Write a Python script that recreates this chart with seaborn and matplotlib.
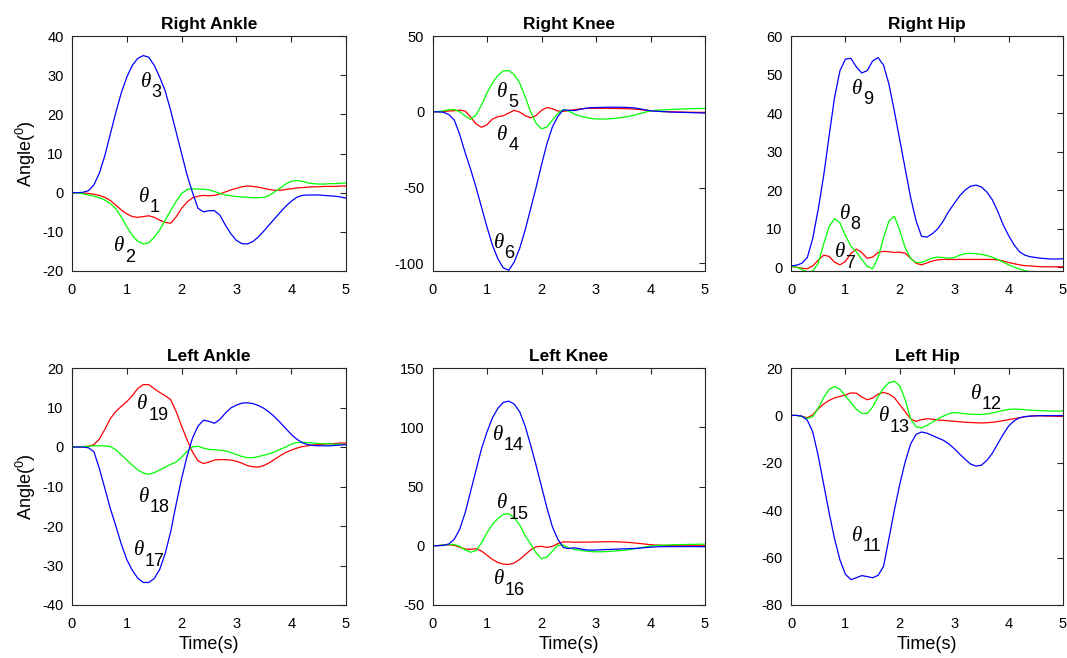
import numpy as np
import pandas as pd
import matplotlib
matplotlib.use("Agg")
import matplotlib.pyplot as plt
import seaborn as sns

time_s = [round(0.1 * i, 1) for i in range(51)]

# Right Ankle
theta1 = [0, 0, -0.1, -0.2, -0.4, -0.7, -1.2, -2.0, -3.2, -4.4, -5.4, -6.1, -6.3, -6.1, -5.9, -6.3, -7.0, -7.6, -7.8, -6.2,
          -4.0, -2.4, -1.3, -0.9, -0.7, -0.8, -0.7, -0.3, 0.2, 0.7, 1.1, 1.5, 1.7, 1.6, 1.4, 1.1, 0.8, 0.6, 0.6, 0.8,
          1.0, 1.2, 1.3, 1.4, 1.5, 1.5, 1.6, 1.6, 1.6, 1.7, 1.7]
theta2 = [0, -0.1, -0.3, -0.6, -0.9, -1.3, -1.9, -2.8, -4.1, -6.2, -8.7, -10.9, -12.4, -13.1, -12.8, -11.4, -9.5, -7.0, -4.6, -2.2,
          -0.2, 0.8, 1.0, 0.9, 0.9, 0.7, 0.3, -0.2, -0.6, -0.8, -1.0, -1.1, -1.2, -1.3, -1.3, -1.2, -0.7, 0.2, 1.2, 2.2,
          2.9, 3.1, 2.9, 2.5, 2.3, 2.2, 2.2, 2.3, 2.3, 2.4, 2.5]
theta3 = [0, 0, 0.1, 0.5, 2.0, 5.0, 9.5, 15.0, 20.5, 25.5, 29.5, 32.5, 34.3, 35.0, 34.6, 32.5, 29.5, 26.0, 21.0, 15.5,
          10.0, 4.5, 0.0, -4.0, -4.9, -4.6, -4.6, -5.8, -8.3, -10.5, -12.2, -13.0, -13.1, -12.5, -11.3, -9.8, -8.2, -6.6, -5.0, -3.5,
          -2.2, -1.2, -0.7, -0.6, -0.6, -0.6, -0.7, -0.8, -0.9, -1.1, -1.4]

# Right Knee
theta4 = [0, 0, 0.2, 0.5, 0.7, 1.1, 0.5, -3.5, -8.0, -10.2, -8.5, -4.8, -3.2, -2.6, -0.8, 1.0, -0.2, -2.5, -4.0, -2.5,
          1.0, 2.8, 2.0, 0.5, 0.3, 0.8, 1.4, 1.9, 2.2, 2.3, 2.3, 2.3, 2.3, 2.2, 2.2, 2.1, 2.0, 1.8, 1.5, 1.1,
          0.7, 0.4, 0.2, 0.1, 0, -0.1, -0.2, -0.3, -0.3, -0.4, -0.4]
theta5 = [0, 0.2, 0.6, 1.4, 1.5, 0, -2.8, -5.0, -2.0, 4.5, 12.5, 19.0, 24.0, 27.0, 27.2, 24.5, 19.0, 10.0, 0, -7.5,
          -11.2, -10.0, -5.5, -1.0, 1.5, 0.5, -1.5, -2.6, -3.6, -4.3, -4.7, -4.8, -4.7, -4.5, -4.1, -3.6, -3.0, -2.2, -1.3, -0.3,
          0.6, 1.0, 1.2, 1.4, 1.6, 1.8, 1.9, 2.0, 2.1, 2.2, 2.2]
theta6 = [0, 0, -0.3, -1.8, -5.5, -15.0, -27.0, -38.0, -50.0, -63.0, -76.0, -88.0, -97.0, -103.0, -104.5, -99.0, -90.0, -78.0, -64.0, -50.0,
          -35.0, -21.0, -10.0, -3.0, 1.2, 1.0, 0.8, 1.5, 2.3, 2.7, 2.8, 2.9, 3.0, 3.0, 3.0, 3.0, 2.8, 2.6, 2.0, 1.3,
          0.7, 0.4, 0.2, 0, -0.2, -0.3, -0.4, -0.5, -0.6, -0.7, -0.8]

# Right Hip
theta7 = [0.2, 0, -0.3, -0.4, 0.3, 1.8, 3.1, 2.8, 1.3, 0.6, 1.5, 3.5, 4.7, 3.8, 2.3, 2.6, 3.8, 4.1, 4.0, 3.8,
          3.9, 3.6, 2.3, 1.0, 0.6, 1.1, 1.6, 1.9, 2.0, 2.0, 2.0, 2.0, 2.0, 2.0, 2.0, 2.0, 2.0, 2.0, 1.9, 1.6,
          1.2, 0.9, 0.6, 0.4, 0.3, 0.2, 0.1, 0.1, 0.1, 0.1, 0.1]
theta8 = [0.2, 0, -0.6, -1.2, -1.0, 1.0, 6.0, 10.5, 12.6, 11.5, 8.2, 5.5, 4.0, 2.0, 0.2, -0.4, 2.5, 7.5, 12.0, 13.2,
          9.5, 5.0, 2.2, 1.2, 1.2, 1.8, 2.4, 2.6, 2.5, 2.3, 2.5, 3.1, 3.5, 3.6, 3.5, 3.3, 3.0, 2.6, 2.0, 1.3,
          0.6, 0, -0.5, -0.9, -1.2, -1.4, -1.5, -1.5, -1.5, -1.5, -1.5]
theta9 = [0.3, 0.5, 1.0, 2.5, 7.5, 15.0, 23.7, 34.0, 44.0, 51.0, 54.0, 54.2, 52.0, 50.4, 51.0, 53.5, 54.4, 52.5, 47.5, 40.5,
          33.0, 25.5, 18.0, 12.0, 8.0, 7.8, 8.7, 10.0, 12.0, 14.5, 16.5, 18.5, 20.0, 21.0, 21.3, 20.8, 19.5, 17.5, 14.5, 11.0,
          8.2, 5.8, 4.0, 3.1, 2.7, 2.5, 2.3, 2.2, 2.1, 2.1, 2.2]

# Left Ankle
theta17 = [0, 0, 0, -0.2, -1.2, -5.5, -10.5, -15.6, -20.0, -24.6, -28.5, -31.2, -33.2, -34.3, -34.3, -33.3, -31.0, -27.0, -21.5, -14.5,
           -8.0, -2.3, 2.3, 5.3, 6.8, 6.5, 6.0, 7.0, 8.6, 9.9, 10.6, 11.1, 11.2, 11.0, 10.5, 9.8, 8.8, 7.6, 6.2, 4.7,
           3.2, 2.0, 1.1, 0.6, 0.4, 0.3, 0.3, 0.3, 0.4, 0.5, 0.6]
theta18 = [0, 0, 0.1, 0.2, 0.3, 0.3, 0.3, 0.1, -0.7, -2.0, -3.3, -4.6, -5.8, -6.6, -6.9, -6.5, -5.8, -5.1, -4.4, -3.8,
           -2.6, -1.1, 0, 0.2, -0.3, -0.6, -0.7, -0.8, -1.0, -1.4, -1.9, -2.4, -2.7, -2.7, -2.4, -2.1, -1.7, -1.2, -0.6, 0,
           0.7, 1.1, 1.2, 1.1, 1.0, 0.9, 0.8, 0.8, 0.7, 0.7, 0.6]
theta19 = [0, 0, 0, 0.2, 0.6, 2.0, 4.5, 7.2, 9.0, 10.3, 11.5, 13.0, 14.8, 15.8, 15.8, 14.8, 13.8, 13.0, 12.0, 9.0,
           5.3, 1.8, -1.3, -3.5, -4.2, -3.8, -3.3, -3.2, -3.2, -3.3, -3.6, -4.1, -4.7, -5.0, -5.1, -4.7, -4.0, -3.1, -2.2, -1.4,
           -0.8, -0.3, 0.1, 0.3, 0.5, 0.6, 0.7, 0.8, 0.9, 1.0, 1.0]

# Left Knee
theta14 = [0, 0, 0.3, 1.5, 5.5, 14.0, 28.0, 46.0, 64.0, 82.0, 96.0, 108.0, 116.0, 121.0, 122.0, 119.5, 113.0, 101.0, 85.0, 68.0,
           50.0, 32.0, 16.0, 5.5, -1.5, -2.4, -1.7, -2.5, -3.4, -3.7, -3.6, -3.4, -3.2, -3.0, -2.8, -2.6, -2.4, -2.3, -2.0, -1.6,
           -1.2, -0.9, -0.8, -0.7, -0.7, -0.7, -0.7, -0.7, -0.7, -0.8, -0.8]
theta15 = [0, 0.2, 0.6, 1.1, 1.0, -0.5, -3.5, -5.5, -4.0, 2.5, 11.0, 18.0, 23.0, 26.5, 27.0, 23.5, 17.5, 8.5, 1.5, -6.0,
           -11.0, -9.5, -4.5, 0.5, 0.5, -1.8, -3.0, -3.8, -4.4, -4.9, -5.1, -5.1, -4.9, -4.6, -4.2, -3.9, -3.4, -2.6, -1.8, -1.0,
           -0.3, 0.2, 0.4, 0.6, 0.8, 0.9, 1.0, 1.1, 1.2, 1.3, 1.4]
theta16 = [0, 0.2, 0.6, 0.8, 0.3, -1.2, -2.8, -3.0, -2.5, -4.5, -8.0, -11.5, -14.2, -15.5, -15.8, -14.5, -11.5, -7.5, -3.5, -0.9,
           -0.5, -1.4, -0.5, 1.8, 3.3, 3.2, 3.0, 3.0, 3.0, 3.1, 3.2, 3.3, 3.4, 3.4, 3.3, 3.1, 2.8, 2.4, 1.9, 1.4,
           0.9, 0.6, 0.4, 0.2, 0.1, 0, 0, 0, 0, 0, 0]

# Left Hip
theta11 = [0, 0, -0.3, -2.0, -7.0, -17.0, -29.0, -41.0, -52.0, -61.0, -67.0, -69.3, -68.5, -67.6, -68.0, -68.5, -67.5, -63.8, -52.0, -40.0,
           -29.0, -19.5, -12.0, -8.0, -7.0, -7.5, -8.5, -9.5, -10.5, -12.0, -14.0, -16.3, -18.5, -20.5, -21.4, -21.0, -19.0, -16.0, -12.0, -8.0,
           -4.5, -2.3, -1.0, -0.5, -0.3, -0.2, -0.1, -0.1, -0.1, -0.1, -0.1]
theta12 = [0, 0, -0.5, -1.3, -0.5, 3.0, 7.5, 11.0, 12.2, 11.0, 8.2, 5.5, 2.6, 0.9, 0.8, 3.5, 7.8, 11.5, 13.8, 14.4,
           12.5, 6.5, -1.5, -4.8, -5.3, -4.2, -2.8, -1.5, -0.3, 0.7, 1.2, 1.0, 0.7, 0.5, 0.4, 0.4, 0.6, 1.0, 1.5, 2.1,
           2.5, 2.7, 2.6, 2.4, 2.2, 2.1, 2.0, 1.9, 1.8, 1.8, 1.9]
theta13 = [0, 0, -0.4, -1.0, 0.2, 2.8, 4.8, 6.3, 7.4, 8.0, 8.6, 9.5, 9.4, 7.8, 6.6, 7.3, 9.0, 9.7, 9.0, 7.5,
           4.5, 1.5, -1.5, -2.5, -1.8, -1.4, -1.6, -1.9, -2.1, -2.3, -2.5, -2.7, -2.9, -3.0, -3.1, -3.2, -3.1, -2.9, -2.6, -2.2,
           -1.8, -1.4, -1.0, -0.6, -0.3, -0.1, -0.2, -0.3, -0.3, -0.4, -0.4]

panel_titles = ["Right Ankle", "Right Knee", "Right Hip", "Left Ankle", "Left Knee", "Left Hip"]
RED, GREEN, BLUE = "#ff0000", "#00ff00", "#0000ff"
panel_series = [
    [("1", theta1, RED), ("2", theta2, GREEN), ("3", theta3, BLUE)],
    [("4", theta4, RED), ("5", theta5, GREEN), ("6", theta6, BLUE)],
    [("7", theta7, RED), ("8", theta8, GREEN), ("9", theta9, BLUE)],
    [("19", theta19, RED), ("18", theta18, GREEN), ("17", theta17, BLUE)],
    [("16", theta16, RED), ("15", theta15, GREEN), ("14", theta14, BLUE)],
    [("13", theta13, RED), ("12", theta12, GREEN), ("11", theta11, BLUE)],
]
panel_ylim = [(-20, 40), (-105, 50), (-1, 60), (-40, 20), (-50, 150), (-80, 20)]
panel_yticks = [
    [-20, -10, 0, 10, 20, 30, 40],
    [-100, -50, 0, 50],
    [0, 10, 20, 30, 40, 50, 60],
    [-40, -30, -20, -10, 0, 10, 20],
    [-50, 0, 50, 100, 150],
    [-80, -60, -40, -20, 0, 20],
]
x_ticks = [0, 1, 2, 3, 4, 5]

# label anchor (time, angle) for each theta label
label_pos = {
    "1": (1.41, -2.4), "2": (0.96, -15.0), "3": (1.44, 27.1),
    "4": (1.38, -18.3), "5": (1.38, 10.0), "6": (1.31, -89.6),
    "7": (0.99, 2.6), "8": (1.08, 12.5), "9": (1.31, 45.0),
    "17": (1.32, -27.4), "18": (1.41, -13.9), "19": (1.38, 9.5),
    "14": (1.30, 89.3), "15": (1.38, 31.5), "16": (1.31, -32.4),
    "11": (1.31, -52.8), "12": (3.50, 6.9), "13": (1.80, -2.5),
}

# ---------------- styling ----------------
sns.set_theme(style="white")
plt.rcParams["font.family"] = ["Liberation Sans", "DejaVu Sans"]
plt.rcParams["mathtext.fontset"] = "custom"
plt.rcParams["mathtext.rm"] = "Liberation Sans"
plt.rcParams["axes.unicode_minus"] = False

fig = plt.figure(figsize=(10.67, 6.58), dpi=100)
W, H = 1067.0, 658.0
col_x = [(72, 346), (432.5, 705), (791, 1063)]
row_y = [(36, 271), (368, 605)]

axes = []
for r in range(2):
    for c in range(3):
        x0, x1 = col_x[c]
        y0, y1 = row_y[r]
        ax = fig.add_axes([x0 / W, 1 - y1 / H, (x1 - x0) / W, (y1 - y0) / H])
        axes.append(ax)

spine_col = "#262626"
for i, ax in enumerate(axes):
    for name, vals, col in panel_series[i]:
        df = pd.DataFrame({"t": time_s, "angle": vals})
        sns.lineplot(data=df, x="t", y="angle", color=col, linewidth=0.9, ax=ax, legend=False)
        tx, ty = label_pos[name]
        ax.text(tx, ty, "\u03b8", family="Liberation Serif", style="italic", fontsize=15,
                ha="right", va="baseline", color="black")
        ax.annotate(name, xy=(tx, ty), xytext=(0.5, -7.5), textcoords="offset points",
                    ha="left", va="baseline", fontsize=13, color="black")
    ax.set_xlim(0, 5)
    ax.set_ylim(*panel_ylim[i])
    ax.set_xticks(x_ticks)
    ax.set_yticks(panel_yticks[i])
    ax.set_xlabel("")
    ax.set_ylabel("")
    ax.set_title(panel_titles[i], fontsize=12.5, fontweight="bold", pad=5, color="black")
    ax.tick_params(direction="in", length=4, width=0.8, top=True, right=True,
                   labelsize=10.5, colors=spine_col, labelcolor="black")
    ax.tick_params(axis="x", pad=9)
    ax.tick_params(axis="y", pad=6)
    for sp in ax.spines.values():
        sp.set_visible(True)
        sp.set_color(spine_col)
        sp.set_linewidth(0.8)
    ax.grid(False)

axes[0].set_ylabel("Angle($^{0}$)", fontsize=13, color="black", labelpad=3)
axes[3].set_ylabel("Angle($^{0}$)", fontsize=13, color="black", labelpad=3)
for ax in axes[3:]:
    ax.set_xlabel("Time(s)", fontsize=13, color="black", labelpad=3)

fig.savefig("out.png", dpi=100, facecolor="white")
